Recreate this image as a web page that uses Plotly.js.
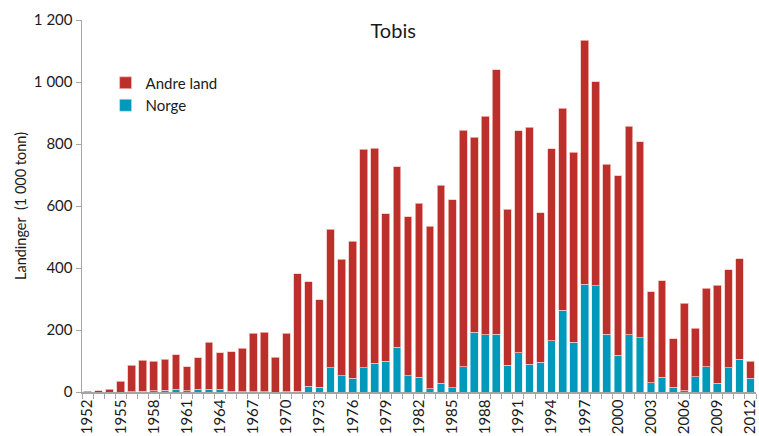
<!DOCTYPE html>
<html>
<head>
<meta charset="utf-8">
<script src="https://cdn.plot.ly/plotly-3.0.1.min.js"></script>
<style>html,body{margin:0;padding:0;background:#fff;}#chart{width:759px;height:436px;}</style>
</head>
<body>
<div id="chart"></div>
<script>
const years = [1952,1953,1954,1955,1956,1957,1958,1959,1960,1961,1962,1963,1964,1965,1966,1967,1968,1969,1970,
  1971,1972,1973,1974,1975,1976,1977,1978,1979,1980,1981,1982,1983,1984,1985,1986,1987,1988,1989,1990,
  1991,1992,1993,1994,1995,1996,1997,1998,1999,2000,2001,2002,2003,2004,2005,2006,2007,2008,2009,2010,2011,2012];

const norge = [0,0,0,0,1,2,4,6,9,4,9,9,9,3,1,1,1,0,1,
  2,19,15,78,53,44,78,93,100,144,53,47,10,28,13,81,193,184,187,87,
  127,89,96,165,263,160,347,342,187,119,184,175,30,47,16,4,49,81,28,78,106,44];

const andreLand = [2,4,9,35,85,101,96,100,111,77,101,151,118,127,140,188,191,112,188,
  380,337,282,447,375,443,705,693,475,582,513,562,525,639,607,764,629,706,852,502,
  715,765,482,619,653,614,788,659,547,579,674,632,294,312,155,282,156,253,317,316,324,56];

const xTickVals = [1952,1955,1958,1961,1964,1967,1970,1973,1976,1979,1982,1985,1988,1991,1994,1997,2000,2003,2006,2009,2012];
const yTickVals = [0,200,400,600,800,1000,1200];
const yTickText = ["0","200","400","600","800","1 000","1 200"];

const FONT = "Lato, 'Open Sans', sans-serif";
const TXT = "#1a1a1a";

const traces = [
  {type:'bar', name:'Norge', x:years, y:norge,
   marker:{color:'#0099BC', line:{color:'rgba(200,235,245,0.9)', width:0.6}}},
  {type:'bar', name:'Andre land', x:years, y:andreLand,
   marker:{color:'#BC2F2A', line:{color:'rgba(245,195,192,0.95)', width:0.8}}}
];

const layout = {
  width:759, height:436,
  margin:{l:82, r:3, t:20, b:44, pad:0},
  paper_bgcolor:'#fff', plot_bgcolor:'#fff',
  barmode:'stack', bargap:0.3,
  font:{family:FONT, size:15, color:TXT},
  title:{text:'Tobis', font:{family:FONT, size:20, color:TXT}, x:0.518, xanchor:'center', y:0.93, yanchor:'middle'},
  showlegend:true,
  legend:{x:0.035, y:0.875, xanchor:'left', yanchor:'top', traceorder:'reversed',
    font:{family:FONT, size:15, color:TXT}, bgcolor:'rgba(0,0,0,0)', itemwidth:30, tracegroupgap:0},
  xaxis:{type:'linear', range:[1951.5, 2012.5], tickvals:xTickVals, ticktext:xTickVals.map(String),
    tickangle:-90, ticks:'', showline:true, linecolor:'#a6a6a6', linewidth:1.5,
    showgrid:false, zeroline:false, ticklabeloverflow:'allow', tickfont:{family:FONT, size:15, color:TXT},
    minor:{tick0:1951.5, dtick:1, ticks:'outside', ticklen:5, tickcolor:'#a6a6a6', tickwidth:1, showgrid:false}},
  yaxis:{range:[0,1200], tickvals:yTickVals, ticktext:yTickText, ticks:'outside', ticklen:5,
    tickcolor:'#a6a6a6', showline:true, linecolor:'#a6a6a6', linewidth:1.5, showgrid:false, zeroline:false,
    tickfont:{family:FONT, size:15, color:TXT},
    title:{text:'Landinger  (1 000 tonn)', font:{family:FONT, size:14.5, color:TXT}, standoff:4}}
};

Plotly.newPlot('chart', traces, layout, {displayModeBar:false, staticPlot:true});
</script>
</body>
</html>
